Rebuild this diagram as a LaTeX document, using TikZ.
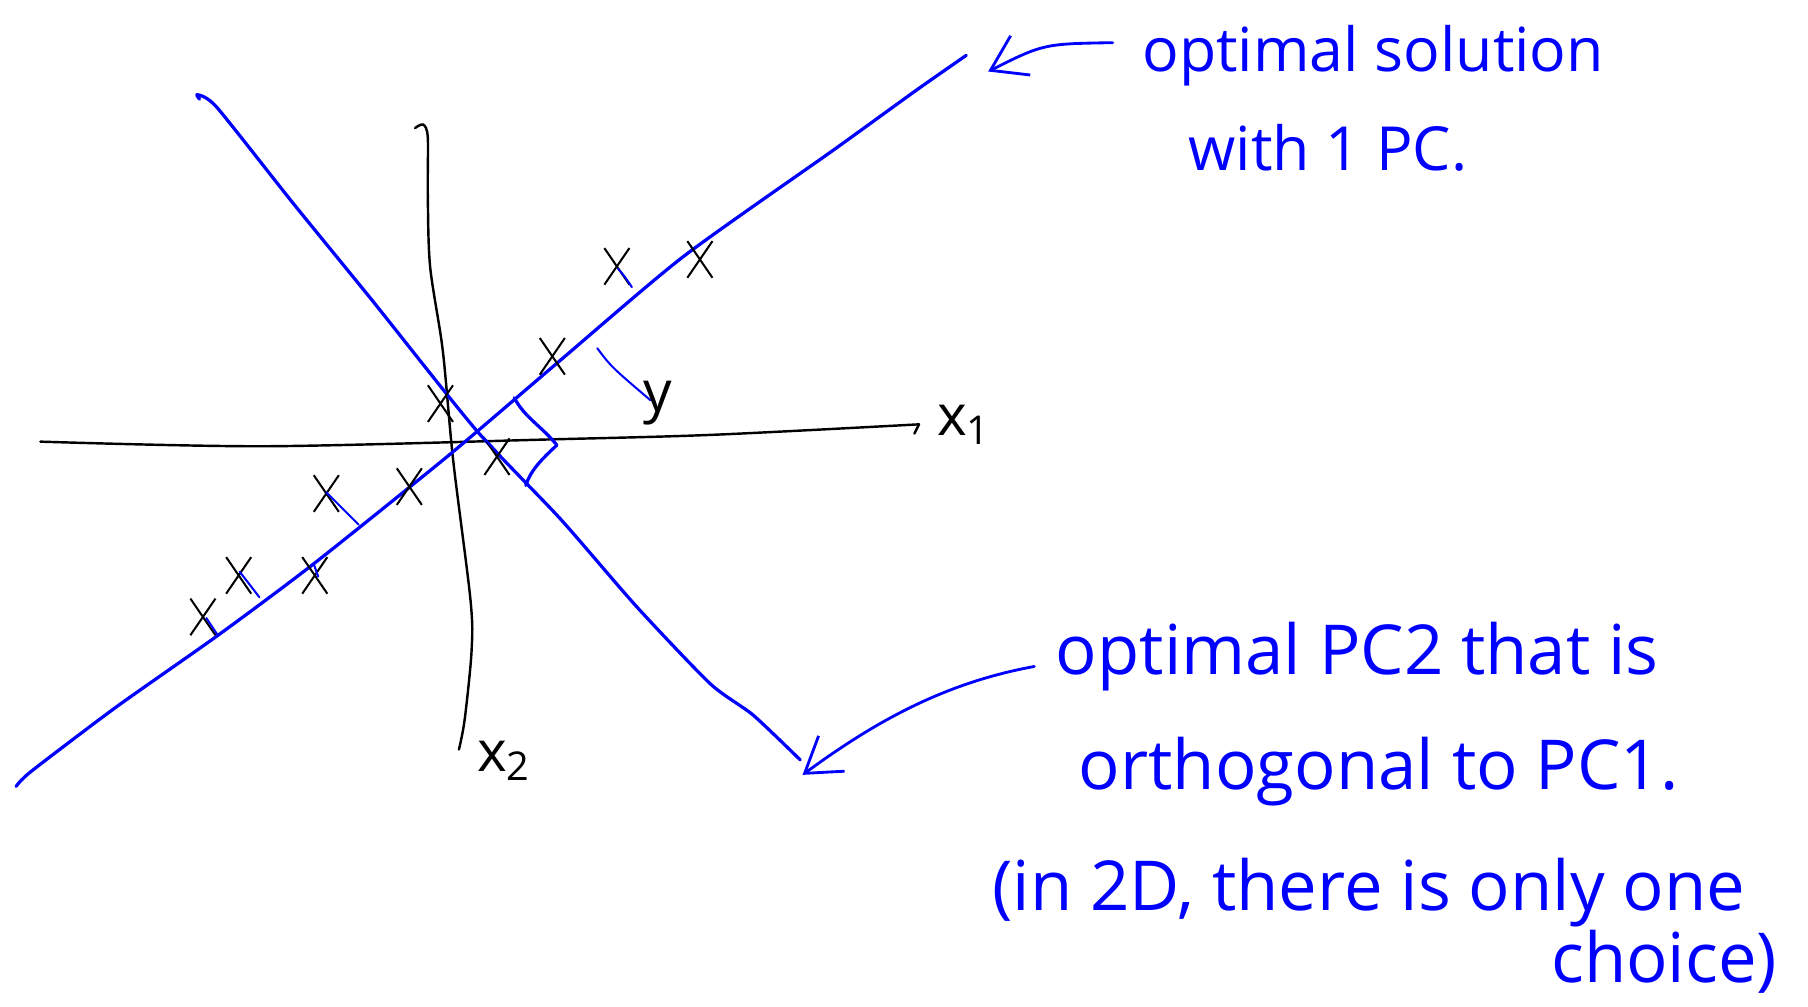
\documentclass[tikz,border=0pt]{standalone}
\usepackage{fontspec}
\setmainfont{Open Sans}
\usetikzlibrary{arrows.meta, positioning, shapes.misc}

\begin{document}
\begin{tikzpicture}[x=0.1mm, y=-0.1mm,
  axis/.style={black, line width=0.6pt, line cap=round},
  pcline/.style={blue, line width=0.8pt, line cap=round, line join=round},
  proj/.style={blue, line width=0.5pt, line cap=round},
  pt/.style={cross out, draw=black, line width=0.5pt, minimum width=2mm, minimum height=3mm, inner sep=0pt},
  lbl/.style={black, anchor=base west, inner sep=0pt, font=\fontsize{14}{16}\selectfont},
  note/.style={blue, anchor=base west, inner sep=0pt, font=\fontsize{15}{18}\selectfont},
  bignote/.style={note, font=\fontsize{17}{20}\selectfont},
  pointer/.style={blue, line width=0.7pt, line cap=round, -{Straight Barb[length=2.9mm, width=3.8mm]}},
]
\useasboundingbox (0,0) rectangle (1568,873);

% Axes
\draw[axis] plot[smooth, tension=0.5] coordinates {(35,383) (230,387) (480,381) (620,377) (797,368)};
\draw[axis] (797,368) -- (793,376);
\draw[axis] plot[smooth, tension=0.5] coordinates {(360,111) (367,108) (371,119) (371,168) (373,231) (384,304) (393,399) (408,520) (409,564) (403,624) (398,650)};
\node[lbl] (x1) at (812,378) {x\textsubscript{1}};
\node[lbl] (x2) at (413,669) {x\textsubscript{2}};

% PC1 and PC2
\draw[pcline] plot[smooth, tension=0.4] coordinates {(14,682) (27,669) (101,613) (189,551) (272,489) (389,395) (483,315) (592,223) (723,130) (795,78) (838,48)};
\draw[pcline] plot[smooth, tension=0.4] coordinates {(173,86) (171,82) (188,93) (254,176) (324,262) (413,373) (486,450) (552,526) (616,593) (653,620) (694,659)};
\draw[pcline] (446,345) .. controls (455,362) and (470,370) .. (483,386) .. controls (470,398) and (460,408) .. (456,421);

% Data points
\foreach \px/\py [count=\i] in {535/231, 607/225, 479/309, 382/350, 431/396, 283/428, 355/422, 207/499, 273/499, 176/535}
  \node[pt] (p\i) at (\px,\py) {};

% Projections
\draw[proj] (283,427) -- (297,441) -- (311,455);
\draw[proj] (208,496) .. controls (215,505) .. (225,518);
\draw[proj] (179,536) -- (189,551);
\draw[proj] (536,233) .. controls (542,240) .. (548,249);
\draw[proj] (272,489) -- (276,500);
\draw[proj] (419,379) -- (431,392);
\draw[proj] (518,302) .. controls (530,318) .. (564,347);
\node[lbl] (y) at (557,357) {y};

% Annotations
\node[note] (note1a) at (990,62) {optimal solution};
\node[note] (note1b) at (1030,148) {with 1 PC.};
\coordinate (from1) at (965,37);
\coordinate (tip1) at (857,62);
\draw[pointer] (from1) .. controls (905,38) .. (tip1);

\node[bignote] (note2a) at (915,585) {optimal PC2 that is};
\node[bignote] (note2b) at (935,685) {orthogonal to PC1.};
\node[bignote] (note2c) at (860,790) {(in 2D, there is only one};
\node[bignote, anchor=base east] (note2d) at (1542,852) {choice)};
\coordinate (from2) at (897,578);
\coordinate (tip2) at (696,672);
\draw[pointer] (from2) .. controls (820,592) and (760,625) .. (tip2);
\end{tikzpicture}
\end{document}
